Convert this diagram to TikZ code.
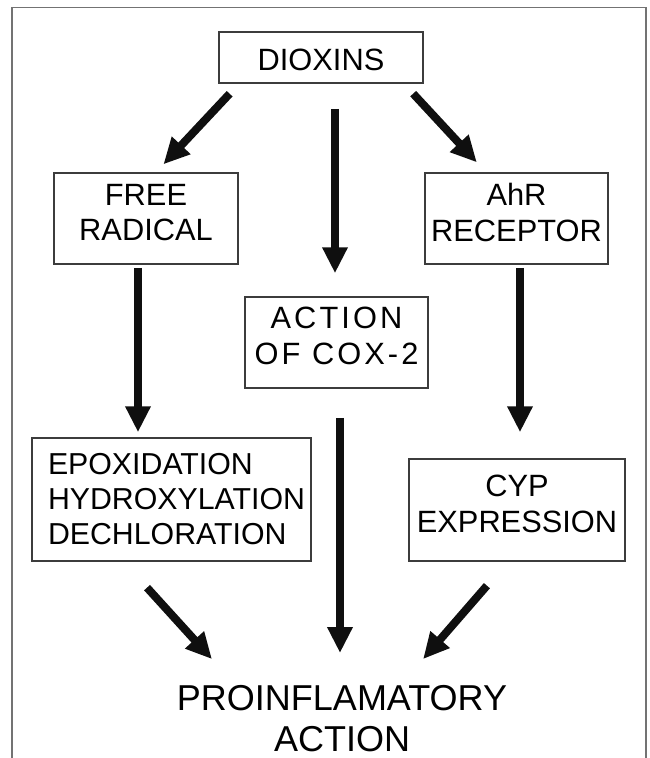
\documentclass[tikz,border=0pt]{standalone}
\usepackage{fontspec}
\setmainfont{Liberation Sans}
\newfontfamily\spacedfont[LetterSpace=10]{Liberation Sans}
\usetikzlibrary{arrows.meta}

\definecolor{framegray}{RGB}{115,115,115}
\definecolor{boxgray}{RGB}{60,60,60}
\definecolor{arrowblack}{RGB}{15,15,15}
\newcommand{\boxfont}{\fontsize{30.8}{35.5}\selectfont}
\hbadness=10000 \hfuzz=20pt

\begin{document}
\begin{tikzpicture}[x=1pt,y=-1pt,
  box/.style={rectangle,draw=boxgray,line width=1.5pt,inner sep=0pt,
    font=\boxfont,align=center},
  flow/.style={-{Triangle[width=24pt,length=26pt]},line width=8pt,
    color=arrowblack},
  frame/.style={draw=framegray,line width=1.8pt}]

  \useasboundingbox (0,0) rectangle (649,758);
  \draw[frame] (12,758) -- (12,7.5) -- (646,7.5) -- (646,758);

  \node[box,minimum width=204pt,minimum height=51pt,text height=26pt] (dio) at (321,57.5) {DIOXINS};
  \node[box,minimum width=184pt,minimum height=91pt,text depth=12pt] (fr) at (146,218.5) {FREE\\RADICAL};
  \node[box,minimum width=183pt,minimum height=91pt,text depth=12pt] (ahr) at (516.5,218.5) {AhR\\RECEPTOR};
  \node[box,minimum width=183pt,minimum height=91pt,text depth=14pt,
    font=\spacedfont\boxfont] (act) at (336.5,342.5) {ACTION\\OF COX-2};
  \node[box,minimum width=279pt,minimum height=123pt,align=left,text width=247pt,
    font=\fontsize{30.3}{35}\selectfont] (epo) at (171.5,499.5) {EPOXIDATION\\HYDROXYLATION\\DECHLORATION};
  \node[box,minimum width=216pt,minimum height=102pt,text depth=13pt] (cyp) at (517,510) {CYP\\EXPRESSION};
  \node[font=\fontsize{36}{41}\selectfont,align=center,inner sep=0pt,anchor=north]
    (pro) at (342,685) {PROINFLAMATORY\\ACTION};

  \path[flow]
    ([xshift=-82pt]dio.south) edge[shorten <=13.7pt,shorten >=10.9pt] ([xshift=10pt]fr.north)
    ([xshift=14pt]dio.south) edge[shorten <=25pt,shorten >=23pt] ([xshift=-1.5pt]act.north)
    ([xshift=83pt]dio.south) edge[shorten <=13.5pt,shorten >=13.5pt] ([xshift=-30.5pt]ahr.north)
    ([xshift=-8pt]fr.south) edge[shorten <=3pt,shorten >=5pt] ([xshift=-33.5pt]epo.north)
    ([xshift=3.5pt]ahr.south) edge[shorten <=3pt,shorten >=26pt] ([xshift=3pt]cyp.north)
    ([xshift=3.5pt]act.south) edge[shorten <=29pt,shorten >=32pt] ([xshift=-2pt]pro.north)
    ([xshift=-48pt]epo.south) edge[shorten <=35pt,shorten >=35pt] ([xshift=-106.5pt]pro.north)
    ([xshift=-9.3pt]cyp.south) edge[shorten <=31.7pt,shorten >=34.3pt] ([xshift=58.6pt]pro.north);
\end{tikzpicture}
\end{document}
